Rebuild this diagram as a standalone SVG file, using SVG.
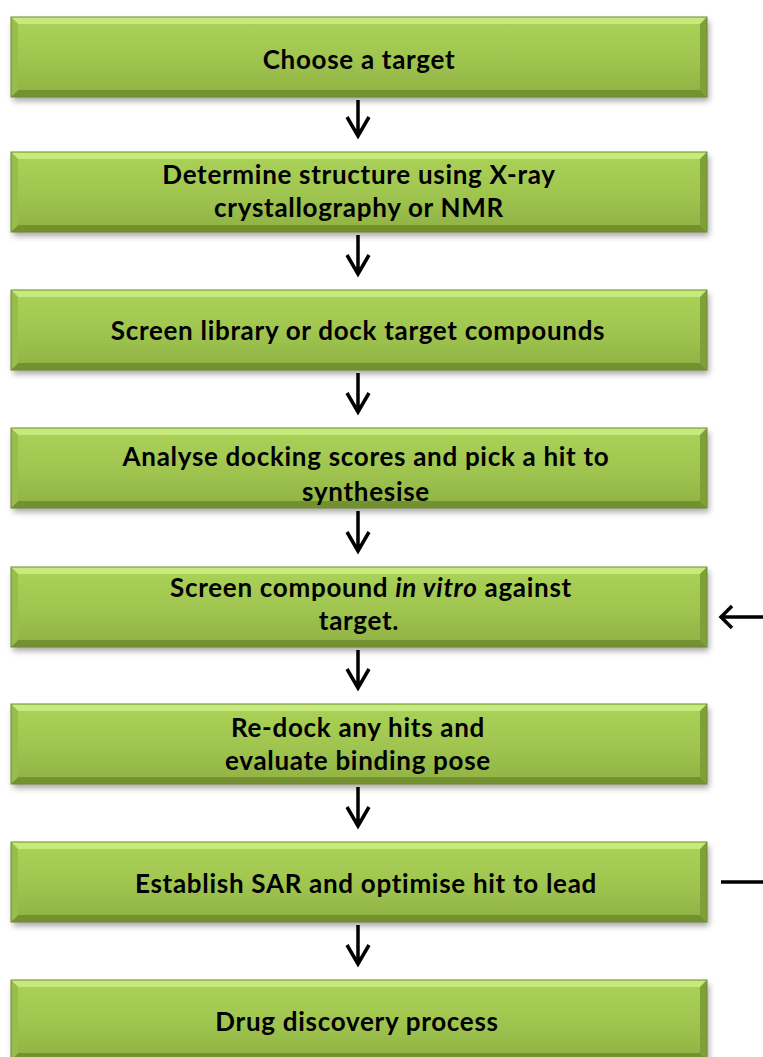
<svg xmlns="http://www.w3.org/2000/svg" xmlns:xlink="http://www.w3.org/1999/xlink" width="763" height="1057" viewBox="0 0 763 1057">
<style>
.t{font-family:Lato,"Open Sans","Liberation Sans",sans-serif;font-weight:bold;font-size:26px;letter-spacing:0.7px;fill:#000;text-anchor:middle}
.c{stroke:#000;stroke-width:3.5;fill:none;stroke-linecap:butt;stroke-linejoin:miter}
</style>
<defs>
<linearGradient id="g" x1="0" y1="0" x2="0" y2="1">
<stop offset="0" stop-color="#abd258"/>
<stop offset="0.5" stop-color="#a0c650"/>
<stop offset="1" stop-color="#8fb143"/>
</linearGradient>
<filter id="sh" x="-5%" y="-20%" width="110%" height="150%">
<feGaussianBlur stdDeviation="3"/>
</filter>
<g id="box">
<rect x="2" y="4" width="696" height="80" fill="#000" opacity="0.35" filter="url(#sh)"/>
<rect x="0" y="0" width="696" height="80" fill="url(#g)"/>
<polygon points="0,0 696,0 689,7 7,7" fill="#c6ea7c"/>
<polygon points="0,80 696,80 689,73 7,73" fill="#73912f"/>
<polygon points="0,0 7,7 7,73 0,80" fill="#98bd4c"/>
<polygon points="696,0 689,7 689,73 696,80" fill="#7f9f38"/>
<rect x="0" y="0" width="696" height="80" fill="none" stroke="#6e8a30" stroke-width="1"/>
</g>
</defs>
<g id="n1"><use xlink:href="#box" x="11" y="17"/><text class="t" x="359" y="69">Choose a target</text></g>
<g id="n2"><use xlink:href="#box" x="11" y="152"/><text class="t" x="359" y="184">Determine structure using X-ray</text><text class="t" x="359" y="217">crystallography or NMR</text></g>
<g id="n3"><use xlink:href="#box" x="11" y="290"/><text class="t" x="358" y="340">Screen library or dock target compounds</text></g>
<g id="n4"><use xlink:href="#box" x="11" y="428"/><text class="t" x="366" y="466">Analyse docking scores and pick a hit to</text><text class="t" x="366" y="501">synthesise</text></g>
<g id="n5"><use xlink:href="#box" x="11" y="567"/><text class="t" x="371" y="597">Screen compound <tspan font-style="italic">in vitro</tspan> against</text><text class="t" x="359" y="630">target.</text></g>
<g id="n6"><use xlink:href="#box" x="11" y="704"/><text class="t" x="358" y="737">Re-dock any hits and</text><text class="t" x="358" y="770">evaluate binding pose</text></g>
<g id="n7"><use xlink:href="#box" x="11" y="842"/><text class="t" x="366" y="893">Establish SAR and optimise hit to lead</text></g>
<g id="n8"><use xlink:href="#box" x="11" y="980"/><text class="t" x="357" y="1031">Drug discovery process</text></g>
<g id="connectors">
<path class="c" d="M358,100 V136 M347,117 L358,136 L369,117"/>
<path class="c" d="M358,235 V274 M347,255 L358,274 L369,255"/>
<path class="c" d="M358,373 V412 M347,393 L358,412 L369,393"/>
<path class="c" d="M358,511 V551 M347,532 L358,551 L369,532"/>
<path class="c" d="M358,650 V688 M347,669 L358,688 L369,669"/>
<path class="c" d="M358,787 V826 M347,807 L358,826 L369,807"/>
<path class="c" d="M358,925 V964 M347,945 L358,964 L369,945"/>
<path class="c" d="M763,617 H721 M732,606 L721,617 L732,628"/>
<path class="c" d="M721,882 H763"/>
</g>
</svg>
